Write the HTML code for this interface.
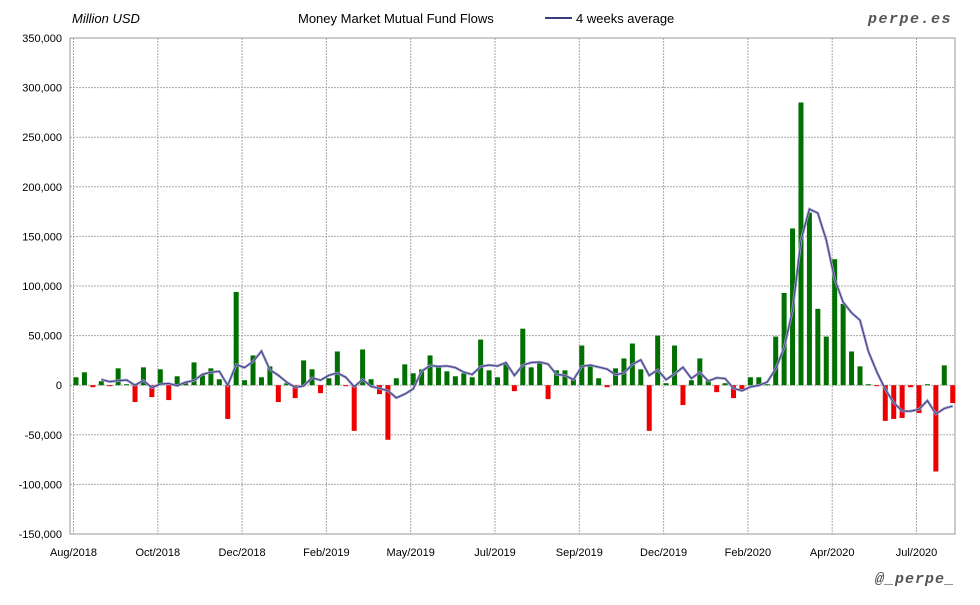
<!DOCTYPE html>
<html><head><meta charset="utf-8"><style>
body{margin:0;background:#fff;width:980px;height:600px;overflow:hidden;font-family:"Liberation Sans",sans-serif}
</style></head><body>
<svg id="c" width="980" height="600" xmlns="http://www.w3.org/2000/svg"></svg>
<script>
const values=[8000,13000,-2000,4000,-1000,17000,1000,-17000,18000,-12000,16000,-15000,9000,2000,23000,10000,17000,6000,-34000,94000,5000,30000,8000,19000,-17000,2000,-13000,25000,16000,-8000,7000,34000,-1000,-46000,
36000,6000,-9000,-55000,7000,21000,12000,16000,30000,18000,14000,9000,12000,8000,46000,15000,8000,22000,-6000,57000,18000,24000,-14000,15000,15000,6000,40000,20000,7000,-2000,17000,27000,42000,16000,-46000,50000,2000,
40000,-20000,5000,27000,5000,-7000,2000,-13000,-4000,8000,8000,1000,49000,93000,158000,285000,174000,77000,49000,127000,82000,34000,19000,1000,-1000,-36000,-34000,-33000,-2000,-28000,1000,-87000,20000,-18000];
const xLabels=["Aug/2018","Oct/2018","Dec/2018","Feb/2019","May/2019","Jul/2019","Sep/2019","Dec/2019","Feb/2020","Apr/2020","Jul/2020"];
const yTicks=[350000,300000,250000,200000,150000,100000,50000,0,-50000,-100000,-150000];
const svg=document.getElementById('c');
const NS='http://www.w3.org/2000/svg';
const L=70,R=955,T=38,B=534,step=8.43,x0=76;
const y=v=>T+(350000-v)/500000*(B-T);
const x=i=>x0+step*i;
function mk(t,a){const e=document.createElementNS(NS,t);for(const k in a)e.setAttribute(k,a[k]);svg.appendChild(e);return e;}
yTicks.forEach(v=>{
 const g=mk('line',{x1:L,x2:R,y1:y(v),y2:y(v),stroke:'#aaa','stroke-dasharray':'2,1','stroke-width':1});
 
 
 const t=mk('text',{x:62,y:y(v)+4,'text-anchor':'end','font-size':11,fill:'#000'});
 t.textContent=v.toLocaleString('en-US');
 
 
});
xLabels.forEach((s,k)=>{
 const gx=x(k*10)-2.5;
 const g=mk('line',{x1:gx,x2:gx,y1:T,y2:B,stroke:'#aaa','stroke-dasharray':'2,1','stroke-width':1});
 
 
 const t=mk('text',{x:gx,y:556,'text-anchor':'middle','font-size':11,fill:'#000'});
 t.textContent=s;
 
 
});
const fr=mk('rect',{x:L,y:T,width:R-L,height:B-T,fill:'none',stroke:'#999','stroke-width':1});


values.forEach((v,i)=>{
 const r=mk('rect',{x:x(i)-2.5,y:Math.min(y(v),y(0)),width:5,height:Math.max(1,Math.abs(y(v)-y(0))),fill:v>=0?'#007000':'#ee0000'});
 
 
});
const pts=[];
for(let i=3;i<values.length;i++){const a=(values[i]+values[i-1]+values[i-2]+values[i-3])/4;pts.push(x(i).toFixed(1)+','+y(a).toFixed(1));}
const ln=mk('polyline',{points:pts.join(' '),fill:'none',stroke:'#9a9ac8','stroke-width':2.6});


const ln2=mk('polyline',{points:pts.join(' '),fill:'none',stroke:'#3a3a80','stroke-width':0.9});


function txt(s,a,n){const t=mk('text',a);t.textContent=s;return t;}
txt('Million USD',{x:72,y:23,'font-size':13,'font-style':'italic',fill:'#000'},'y-axis-unit');
txt('Money Market Mutual Fund Flows',{x:298,y:23,'font-size':13,fill:'#000'},'chart-title');
const lg=mk('line',{x1:545,x2:572,y1:18,y2:18,stroke:'#3a3a80','stroke-width':2});


txt('4 weeks average',{x:576,y:23,'font-size':13,fill:'#000'},'legend-entry');
txt('perpe.es',{x:952,y:23,'font-size':15,'font-style':'italic','font-weight':'bold','text-anchor':'end',fill:'#555','letter-spacing':'1.5',
 'font-family':'Liberation Mono, monospace'},'watermark-site');
txt('@_perpe_',{x:955,y:583,'font-size':15,'font-style':'italic','font-weight':'bold','text-anchor':'end',fill:'#555','letter-spacing':'1',
 'font-family':'Liberation Mono, monospace'},'watermark-handle');
</script>
</body></html>
